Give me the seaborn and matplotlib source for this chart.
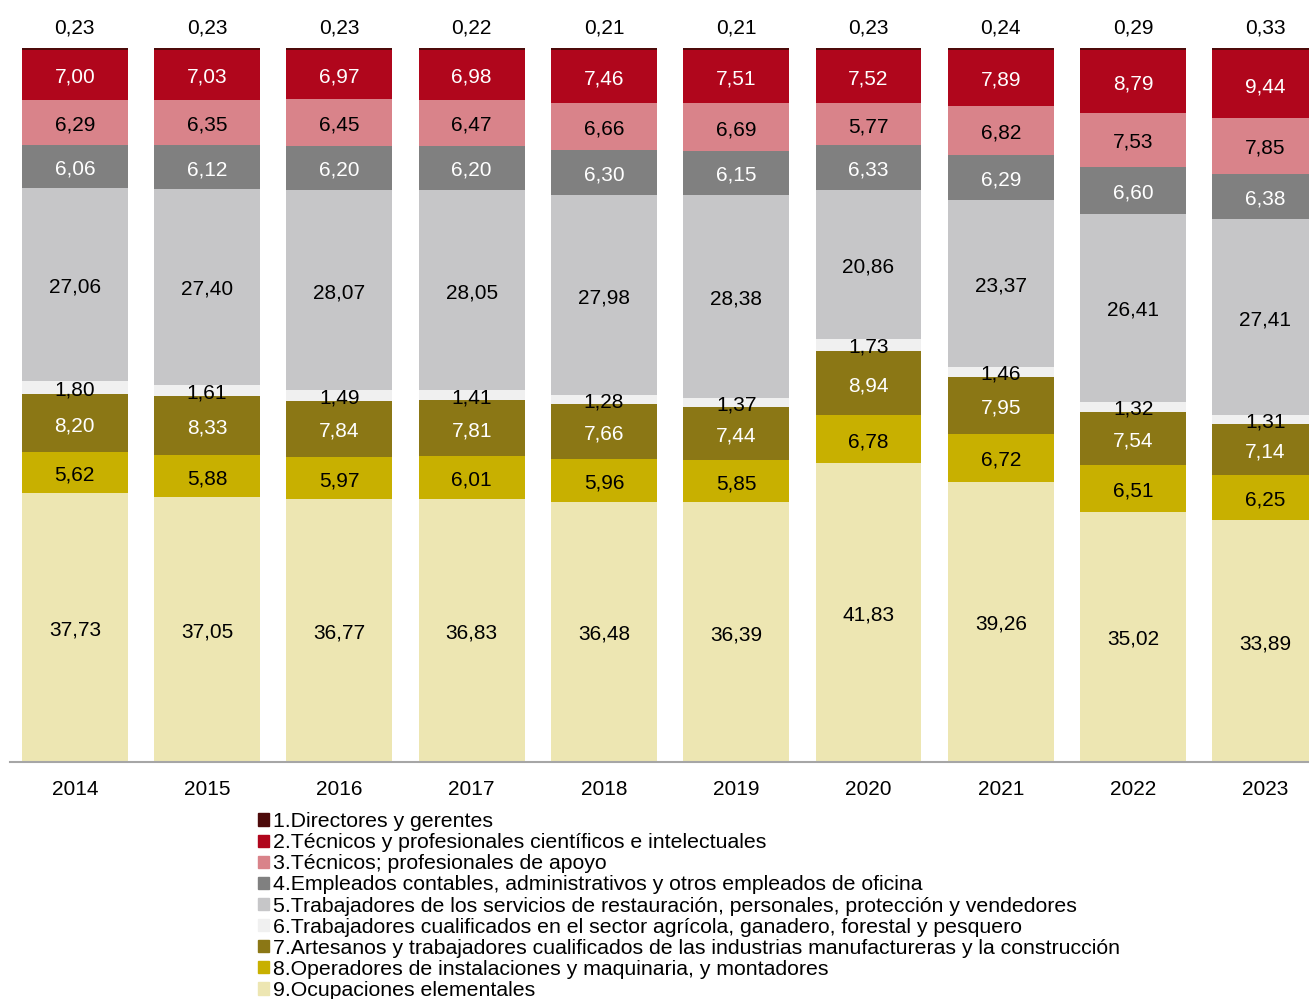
import numpy as np
import pandas as pd
import matplotlib
matplotlib.use("Agg")
from matplotlib import pyplot as plt
import seaborn as sns

years = ["2014", "2015", "2016", "2017", "2018", "2019", "2020", "2021", "2022", "2023"]

categories = [
    "1.Directores y gerentes",
    "2.Técnicos y profesionales científicos e intelectuales",
    "3.Técnicos; profesionales de apoyo",
    "4.Empleados contables, administrativos y otros empleados de oficina",
    "5.Trabajadores de los servicios de restauración, personales, protección y vendedores",
    "6.Trabajadores cualificados en el sector agrícola, ganadero, forestal y pesquero",
    "7.Artesanos y trabajadores cualificados de las industrias manufactureras y la construcción",
    "8.Operadores de instalaciones y maquinaria, y montadores",
    "9.Ocupaciones elementales",
]

directores = [0.23, 0.23, 0.23, 0.22, 0.21, 0.21, 0.23, 0.24, 0.29, 0.33]
tecnicos_prof = [7.00, 7.03, 6.97, 6.98, 7.46, 7.51, 7.52, 7.89, 8.79, 9.44]
tecnicos_apoyo = [6.29, 6.35, 6.45, 6.47, 6.66, 6.69, 5.77, 6.82, 7.53, 7.85]
empleados = [6.06, 6.12, 6.20, 6.20, 6.30, 6.15, 6.33, 6.29, 6.60, 6.38]
servicios = [27.06, 27.40, 28.07, 28.05, 27.98, 28.38, 20.86, 23.37, 26.41, 27.41]
agricola = [1.80, 1.61, 1.49, 1.41, 1.28, 1.37, 1.73, 1.46, 1.32, 1.31]
artesanos = [8.20, 8.33, 7.84, 7.81, 7.66, 7.44, 8.94, 7.95, 7.54, 7.14]
operadores = [5.62, 5.88, 5.97, 6.01, 5.96, 5.85, 6.78, 6.72, 6.51, 6.25]
elementales = [37.73, 37.05, 36.77, 36.83, 36.48, 36.39, 41.83, 39.26, 35.02, 33.89]

colors = ["#4d0a0a", "#b0061c", "#d9838a", "#808080", "#c6c6c8",
          "#f0f0f0", "#8b7715", "#c8b000", "#ede6b2"]
text_colors = ["black", "white", "black", "white", "black",
               "black", "white", "black", "black"]

series = [directores, tecnicos_prof, tecnicos_apoyo, empleados, servicios,
          agricola, artesanos, operadores, elementales]

# stack from the bottom (9) upwards
df = pd.DataFrame(np.array(series).T, columns=categories, index=years)
bottom_up = categories[::-1]
cum = df[bottom_up].cumsum(axis=1)

plt.rcParams["font.family"] = ["Liberation Sans", "DejaVu Sans"]
fig = plt.figure(figsize=(13.09, 9.99), dpi=100)
ax = fig.add_axes([10 / 1309, 1 - 762 / 999, 1 - 10 / 1309, (762 - 48) / 999])

# draw tallest cumulative first, smaller ones on top
for cat in categories:
    i = categories.index(cat)
    sns.barplot(x=years, y=cum[cat].values, color=colors[i], width=0.8,
                linewidth=0, saturation=1, ax=ax)

# value labels
for j, yr in enumerate(years):
    for cat in categories:
        i = categories.index(cat)
        top = cum[cat].iloc[j]
        val = df[cat].iloc[j]
        if i == 0:
            ypos = top + 2.8
        else:
            ypos = top - val / 2 - 0.35
        ax.text(j, ypos, f"{val:.2f}".replace(".", ","), ha="center", va="center",
                fontsize=15, color=text_colors[i], clip_on=False)

ax.set_ylim(0, 100)
ax.set_xlim(-0.49, 9.33)
ax.set_yticks([])
ax.set_ylabel("")
for s in ["top", "left", "right"]:
    ax.spines[s].set_visible(False)
ax.spines["bottom"].set_color("#a6a6a6")
ax.spines["bottom"].set_linewidth(1.5)
ax.tick_params(axis="x", length=0, pad=13, labelsize=15)
ax.set_facecolor("none")

handles = [plt.Rectangle((0, 0), 1, 1, color=c) for c in colors]
fig.legend(handles, categories, loc="upper left", bbox_to_anchor=(258 / 1309, 1 - 812 / 999),
           frameon=False, fontsize=15.3, handlelength=0.5, handleheight=0.5,
           handletextpad=0.2, labelspacing=0.1, borderpad=0, borderaxespad=0)

fig.savefig("out.png", dpi=100)
